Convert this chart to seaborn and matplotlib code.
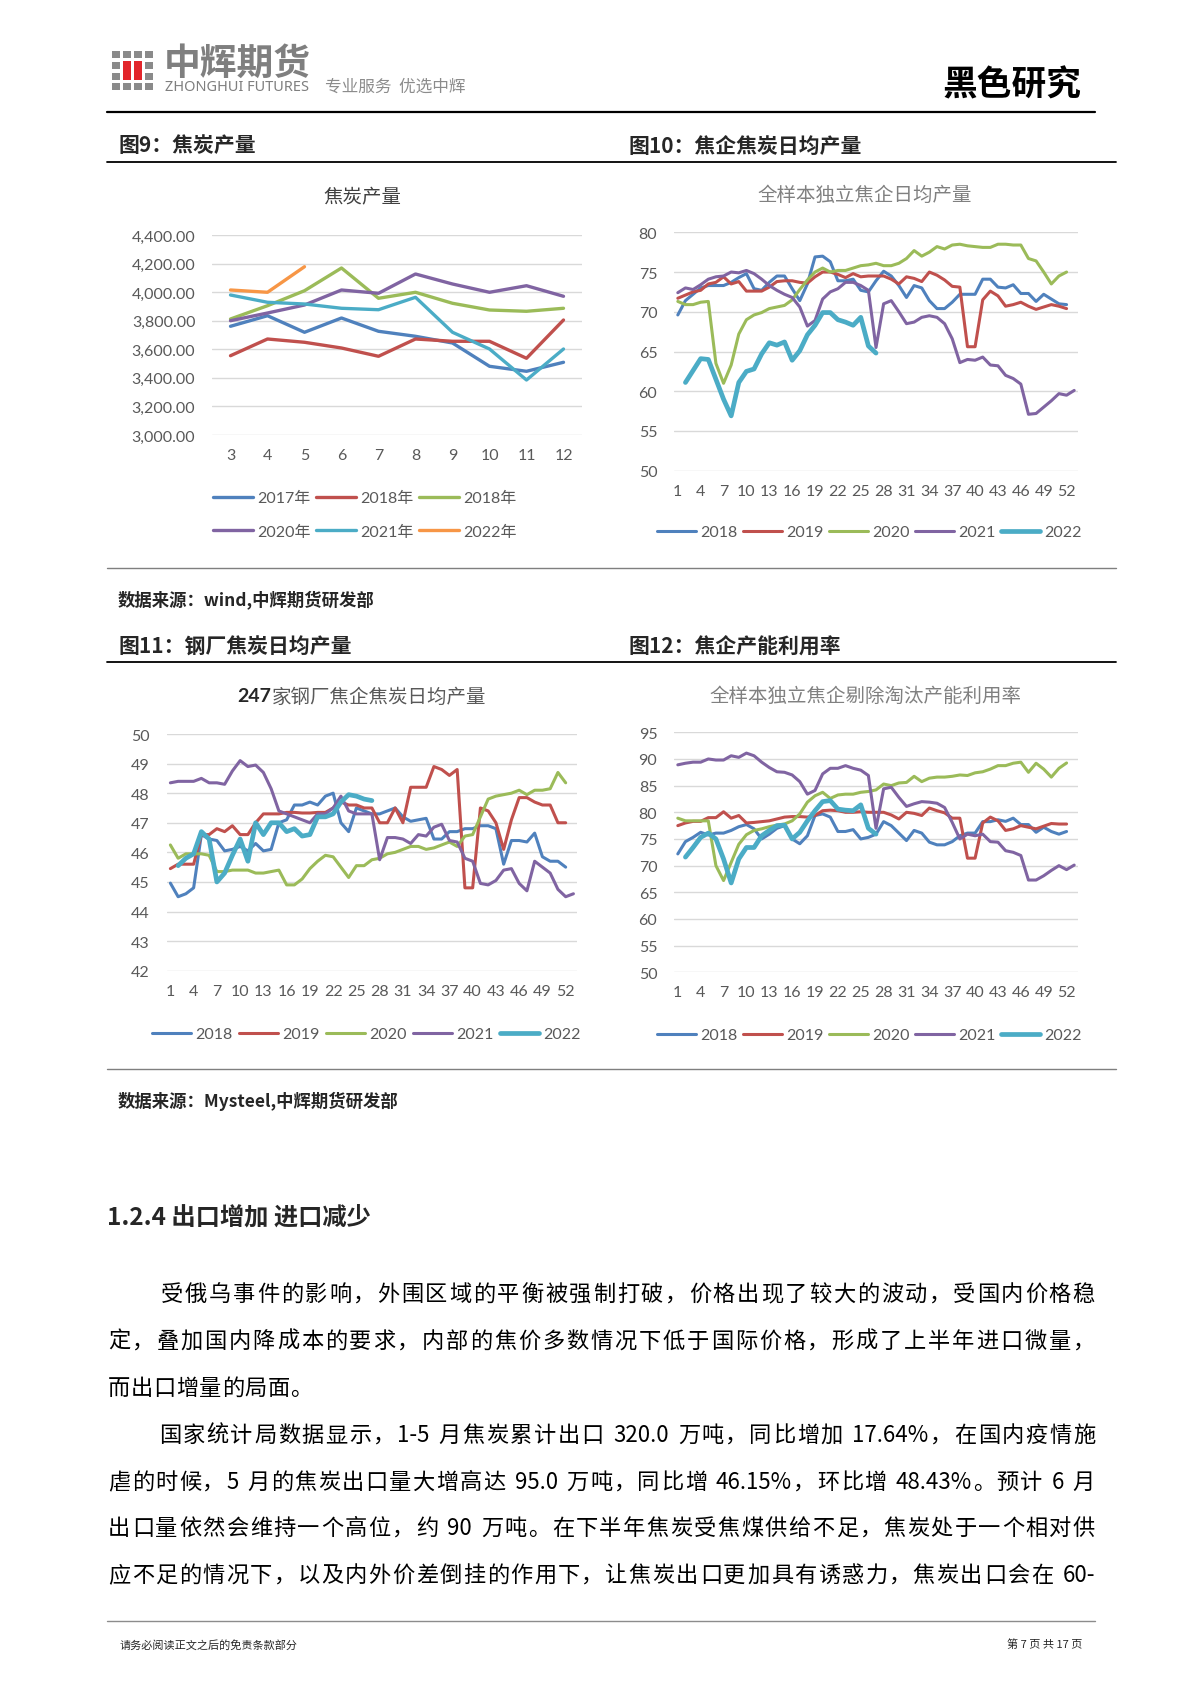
import re
import numpy as np
import pandas as pd
import matplotlib
matplotlib.use('Agg')
import matplotlib.pyplot as plt
import seaborn as sns
from matplotlib.patches import Rectangle
from matplotlib.lines import Line2D

# ---------------------------------------------------------------- data
months = [3, 4, 5, 6, 7, 8, 9, 10, 11, 12]
c9_labels = ['2017年', '2018年', '2018年', '2020年', '2021年', '2022年']
c9_2017 = [3761, 3835, 3719, 3819, 3726, 3691, 3644, 3481, 3446, 3509]
c9_2018 = [3555, 3672, 3649, 3609, 3551, 3672, 3656, 3656, 3537, 3805]
c9_2019 = [3812, 3905, 4010, 4169, 3957, 3999, 3922, 3875, 3866, 3887]
c9_2020 = [3800, 3854, 3910, 4015, 3992, 4127, 4057, 3999, 4045, 3971]
c9_2021 = [3980, 3929, 3917, 3887, 3877, 3964, 3719, 3602, 3385, 3602]
c9_2022 = [4015, 3999, 4178]

week_labels = ['2018', '2019', '2020', '2021', '2022']

c10_2018 = [69.6, 71.4, 72.2, 73.0, 73.3, 73.3, 73.3, 73.7, 74.3, 74.8,
            72.9, 72.7, 73.7, 74.5, 74.5, 72.9, 71.4, 73.5, 76.9, 77.0,
            76.3, 73.9, 73.9, 74.1, 72.7, 72.5, 73.9, 75.1, 74.5, 73.3,
            71.8, 73.3, 73.0, 71.4, 70.4, 70.4, 71.2, 72.2, 72.2, 72.2,
            74.1, 74.1, 73.1, 73.0, 73.4, 72.3, 72.3, 71.3, 72.2, 71.6,
            71.0, 70.9]
c10_2019 = [71.7, 72.1, 72.5, 72.7, 73.5, 73.7, 74.4, 73.5, 73.8, 72.6,
            72.6, 72.6, 73.1, 73.8, 73.9, 73.9, 73.7, 73.6, 74.4, 75.0,
            75.0, 74.7, 74.3, 74.8, 74.4, 74.5, 74.5, 74.5, 74.1, 73.5,
            74.4, 74.2, 73.8, 75.0, 74.6, 74.0, 73.2, 73.1, 65.6, 65.6,
            71.5, 72.6, 72.0, 70.7, 70.9, 71.2, 70.7, 70.3, 70.6, 70.9,
            70.7, 70.4]
c10_2020 = [71.3, 70.9, 70.9, 71.2, 71.3, 63.5, 61.0, 63.3, 67.2, 69.0,
            69.6, 69.9, 70.4, 70.6, 70.8, 71.5, 72.8, 74.0, 75.0, 75.5,
            75.0, 75.2, 75.2, 75.5, 75.8, 75.9, 76.1, 75.8, 75.8, 76.1,
            76.7, 77.7, 77.0, 77.5, 78.2, 77.9, 78.4, 78.5, 78.3, 78.2,
            78.1, 78.1, 78.5, 78.5, 78.4, 78.4, 76.7, 76.4, 75.0, 73.5,
            74.5, 75.0]
c10_2021 = [72.4, 73.0, 72.8, 73.4, 74.1, 74.4, 74.5, 75.0, 74.9, 75.2,
            74.8, 74.1, 73.3, 72.7, 72.2, 71.8, 70.6, 68.2, 68.9, 71.6,
            72.5, 72.9, 73.7, 73.7, 73.3, 72.7, 65.5, 71.0, 71.4, 70.0,
            68.5, 68.7, 69.3, 69.5, 69.3, 68.5, 66.6, 63.6, 64.0, 63.9,
            64.3, 63.3, 63.2, 62.0, 61.6, 60.9, 57.1, 57.2, 58.0, 58.8,
            59.7, 59.5, 60.1]
c10_2022 = [61.1, 62.6, 64.1, 64.0, 61.5, 59.0, 56.9, 61.1, 62.5, 62.8,
            64.7, 66.1, 65.8, 66.2, 63.9, 65.1, 67.1, 68.3, 69.9, 69.9,
            69.0, 68.7, 68.3, 69.3, 65.7, 64.8]

c11_2018 = [44.96, 44.5, 44.6, 44.8, 46.6, 46.45, 46.4, 46.05, 46.1, 46.2,
            46.05, 46.3, 46.05, 46.1, 47.0, 47.1, 47.6, 47.6, 47.7, 47.6,
            47.9, 48.0, 47.0, 46.7, 47.5, 47.4, 47.3, 47.3, 47.4, 47.5,
            47.2, 47.05, 47.1, 47.15, 46.45, 46.45, 46.7, 46.7, 46.8, 46.8,
            46.9, 46.9, 46.8, 45.6, 46.4, 46.4, 46.35, 46.65, 45.85, 45.7,
            45.7, 45.5]
c11_2019 = [45.45, 45.6, 45.6, 45.6, 46.6, 46.6, 46.8, 46.7, 46.9, 46.6,
            46.6, 47.0, 47.3, 47.3, 47.3, 47.35, 47.35, 47.33, 47.33, 47.35,
            47.35, 47.5, 47.7, 47.6, 47.6, 47.5, 47.5, 47.0, 47.0, 47.5,
            47.0, 48.2, 48.2, 48.2, 48.9, 48.8, 48.6, 48.8, 44.8, 44.8,
            47.5, 47.4, 47.0, 46.1, 47.1, 47.85, 47.85, 47.7, 47.6, 47.6,
            47.0, 47.0]
c11_2020 = [46.25, 45.8, 45.95, 45.95, 45.95, 45.9, 45.35, 45.35, 45.4, 45.4,
            45.4, 45.3, 45.3, 45.35, 45.4, 44.9, 44.9, 45.1, 45.45, 45.7,
            45.9, 45.85, 45.5, 45.15, 45.55, 45.55, 45.75, 45.8, 45.95, 46.0,
            46.1, 46.2, 46.2, 46.1, 46.15, 46.25, 46.35, 46.2, 46.55, 46.6,
            47.2, 47.8, 47.9, 47.95, 48.0, 48.1, 47.95, 48.1, 48.1, 48.15,
            48.7, 48.35]
c11_2021 = [48.35, 48.4, 48.4, 48.4, 48.5, 48.35, 48.35, 48.3, 48.75, 49.1,
            48.9, 48.95, 48.7, 48.15, 47.4, 47.3, 47.2, 47.1, 47.0, 47.3,
            47.3, 47.5, 47.9, 47.4, 47.3, 47.3, 47.3, 45.75, 46.5, 46.5,
            46.45, 46.3, 46.6, 46.55, 46.85, 46.95, 46.4, 46.35, 45.8, 45.7,
            44.95, 44.9, 45.05, 45.4, 45.45, 44.95, 44.7, 45.7, 45.5, 45.3,
            44.75, 44.5, 44.6]
c11_2022 = [45.55, 45.8, 45.95, 46.7, 46.45, 45.0, 45.3, 45.9, 46.45, 45.7,
            47.0, 46.6, 47.0, 47.0, 46.7, 46.8, 46.55, 46.6, 47.2, 47.2,
            47.3, 47.7, 47.95, 47.9, 47.8, 47.75]

c12_2018 = [72.2, 74.5, 75.3, 76.25, 75.75, 76.1, 76.1, 76.6, 77.3, 77.7,
            76.9, 75.0, 75.9, 77.0, 77.5, 75.0, 74.1, 75.6, 79.4, 79.7,
            79.1, 76.4, 76.4, 76.75, 75.0, 75.3, 75.9, 78.25, 77.5, 76.1,
            74.7, 76.6, 76.1, 74.4, 73.9, 73.9, 74.5, 75.6, 76.1, 76.1,
            78.25, 78.25, 78.6, 78.3, 78.9, 77.7, 77.7, 76.25, 77.2, 76.4,
            75.9, 76.4]
c12_2019 = [77.5, 78.0, 78.3, 78.3, 79.0, 79.0, 80.1, 78.9, 79.4, 78.0,
            78.1, 78.25, 78.4, 78.75, 79.1, 79.2, 79.2, 79.1, 79.4, 80.3,
            80.4, 80.3, 80.0, 80.0, 80.1, 80.0, 80.0, 80.0, 79.5, 78.75,
            80.0, 79.8, 79.4, 80.8, 80.3, 79.9, 78.9, 78.9, 71.4, 71.4,
            78.0, 79.1, 78.4, 76.6, 76.9, 77.5, 77.2, 76.9, 77.4, 77.9,
            77.8, 77.8]
c12_2020 = [78.9, 78.4, 78.4, 78.4, 78.4, 70.0, 67.2, 70.6, 74.0, 75.8,
            76.6, 76.9, 77.3, 77.6, 77.8, 78.4, 79.7, 81.9, 83.1, 83.75,
            82.6, 83.25, 83.4, 83.4, 83.75, 83.9, 84.2, 85.3, 85.0, 85.5,
            85.6, 86.75, 85.75, 86.4, 86.6, 86.6, 86.75, 87.0, 86.9, 87.4,
            87.6, 88.1, 88.75, 88.75, 89.2, 89.4, 87.5, 89.2, 88.1, 86.6,
            88.25, 89.25]
c12_2021 = [88.9, 89.2, 89.4, 89.4, 90.0, 89.8, 89.8, 90.6, 90.3, 91.1,
            90.6, 89.4, 88.4, 87.6, 87.5, 87.0, 85.75, 83.4, 84.1, 87.2,
            88.25, 88.25, 88.75, 88.25, 87.9, 86.9, 77.0, 84.4, 84.7, 82.8,
            81.1, 81.6, 82.0, 81.9, 81.7, 80.9, 78.1, 75.0, 75.9, 75.6,
            75.9, 74.5, 74.4, 72.8, 72.5, 71.9, 67.3, 67.3, 68.1, 69.1,
            70.0, 69.25, 70.1]
c12_2022 = [71.6, 73.4, 75.3, 76.1, 75.0, 71.25, 66.75, 71.25, 73.4, 73.4,
            75.6, 76.6, 77.5, 77.6, 75.0, 76.25, 78.4, 80.3, 82.0, 82.2,
            80.6, 80.4, 80.3, 81.4, 77.0, 75.9]

para1 = ["受俄乌事件的影响，外围区域的平衡被强制打破，价格出现了较大的波动，受国内价格稳",
         "定，叠加国内降成本的要求，内部的焦价多数情况下低于国际价格，形成了上半年进口微量，",
         "而出口增量的局面。"]
para2 = ["国家统计局数据显示，1-5 月焦炭累计出口 320.0 万吨，同比增加 17.64%，在国内疫情施",
         "虐的时候，5 月的焦炭出口量大增高达 95.0 万吨，同比增 46.15%，环比增 48.43%。预计 6 月",
         "出口量依然会维持一个高位，约 90 万吨。在下半年焦炭受焦煤供给不足，焦炭处于一个相对供",
         "应不足的情况下，以及内外价差倒挂的作用下，让焦炭出口更加具有诱惑力，焦炭出口会在 60-"]

# ---------------------------------------------------------------- style
W, H = 1190, 1683
sns.set_theme(style='white')
plt.rcParams['font.family'] = ['Lato', 'Noto Sans CJK SC', 'DejaVu Sans']
CJK = ['Noto Sans CJK SC', 'DejaVu Sans']
BLUE, RED, GREEN, PURPLE, CYAN, ORANGE = '#4F81BD', '#C0504D', '#9BBB59', '#8064A2', '#4BACC6', '#F79646'
TICKC = '#595959'

fig = plt.figure(figsize=(W / 100, H / 100), dpi=100)
fig.patch.set_facecolor('white')
renderer = fig.canvas.get_renderer()


def fx(x):
    return x / W


def fy(y):
    return 1 - y / H


def add_ax(l, t, r, b):
    return fig.add_axes([fx(l), fy(b), (r - l) / W, (b - t) / H])


def style_ax(ax, ylim, yticks, xlim, xticks, yfmt=None):
    ax.set_ylim(*ylim)
    ax.set_yticks(yticks)
    if yfmt:
        ax.set_yticklabels([yfmt(v) for v in yticks])
    ax.set_xlim(*xlim)
    ax.set_xticks(xticks)
    ax.set_xticklabels([str(v) for v in xticks])
    for s in ax.spines.values():
        s.set_visible(False)
    ax.yaxis.grid(True, color='#D9D9D9', lw=1.0)
    ax.xaxis.grid(False)
    ax.set_axisbelow(True)
    ax.tick_params(axis='both', length=0, labelsize=11.5, colors=TICKC)
    ax.tick_params(axis='y', pad=12)
    ax.tick_params(axis='x', pad=9.5)
    ax.set_xlabel('')
    ax.set_ylabel('')
    ax.set_facecolor('none')


def plot_series(ax, xs, ys, color, lw):
    sns.lineplot(x=xs, y=ys, ax=ax, color=color, linewidth=lw,
                 estimator=None, sort=False, legend=False)
    ln = ax.get_lines()[-1]
    ln.set_solid_joinstyle('round')
    ln.set_solid_capstyle('round')
    return ln


def fig_line(x0, x1, y, color='black', lw=1.0):
    fig.add_artist(Line2D([fx(x0), fx(x1)], [fy(y), fy(y)], color=color, lw=lw))


# ---------------------------------------------------------------- chart 9
ax9 = add_ax(212, 236, 582, 436)
c9_series = [c9_2017, c9_2018, c9_2019, c9_2020, c9_2021, c9_2022]
c9_colors = [BLUE, RED, GREEN, PURPLE, CYAN, ORANGE]
h9 = []
for vals, col in zip(c9_series, c9_colors):
    h9.append(plot_series(ax9, months[:len(vals)], vals, col, 2.4))
style_ax(ax9, (3000, 4400), list(range(3000, 4401, 200)), (2.5, 12.5), months,
         yfmt=lambda v: f'{v:,.2f}')
order = [0, 3, 1, 4, 2, 5]
ax9.legend([h9[i] for i in order], [c9_labels[i] for i in order], ncol=3,
           loc='center left', bbox_to_anchor=(fx(213), fy(516)), bbox_transform=fig.transFigure,
           frameon=False, prop={'size': 11.5}, labelcolor=TICKC, handlelength=2.5,
           handletextpad=0.25, columnspacing=0.35, labelspacing=1.2, borderpad=0, borderaxespad=0)
fig.text(fx(362), fy(198), '焦炭产量', fontsize=14, color='#404040', ha='center', va='center', family=CJK)


# ---------------------------------------------------------------- weekly charts
def weekly(ax, series, lws, ylim, yticks, legend_x, legend_y, colspace):
    cols = [BLUE, RED, GREEN, PURPLE, CYAN]
    hs = []
    for vals, col, lw in zip(series, cols, lws):
        start = 2 if col == CYAN else 1
        weeks = list(range(start, start + len(vals)))
        hs.append(plot_series(ax, weeks, vals, col, lw))
    style_ax(ax, ylim, yticks, (0.5, 53.5), list(range(1, 53, 3)))
    ax.legend(hs, week_labels, ncol=5, loc='center left', bbox_to_anchor=(fx(legend_x), fy(legend_y)),
              bbox_transform=fig.transFigure, frameon=False, prop={'size': 11.5}, labelcolor=TICKC,
              handlelength=2.45, handletextpad=0.25, columnspacing=colspace, borderpad=0, borderaxespad=0)


ax10 = add_ax(674, 233.3, 1078, 471.7)
weekly(ax10, [c10_2018, c10_2019, c10_2020, c10_2021, c10_2022], [2.2, 2.2, 2.2, 2.2, 3.4],
       (50, 80), list(range(50, 81, 5)), 657, 533, 0.35)
fig.text(fx(865), fy(195), '全样本独立焦企日均产量', fontsize=14, color='#808080', ha='center', va='center', family=CJK)

ax11 = add_ax(166.5, 735, 577.3, 971.7)
weekly(ax11, [c11_2018, c11_2019, c11_2020, c11_2021, c11_2022], [2.2, 2.2, 2.2, 2.2, 3.4],
       (42, 50), list(range(42, 51, 1)), 152, 1035, 0.41)
t_a = fig.text(0, fy(697), '247', fontsize=14, color='#262626', ha='left', va='center',
               family=['Lato'], weight='bold')
t_b = fig.text(0, fy(697), '家钢厂焦企焦炭日均产量', fontsize=14, color='#595959', ha='left', va='center', family=CJK)
wa = t_a.get_window_extent(renderer).width
wb = t_b.get_window_extent(renderer).width
x_start = 362 - (wa + wb + 1) / 2
t_a.set_x(fx(x_start))
t_b.set_x(fx(x_start + wa + 1))

ax12 = add_ax(674, 733.3, 1078, 973.3)
weekly(ax12, [c12_2018, c12_2019, c12_2020, c12_2021, c12_2022], [2.2, 2.2, 2.2, 2.2, 3.4],
       (50, 95), list(range(50, 96, 5)), 657, 1036, 0.35)
fig.text(fx(865), fy(696), '全样本独立焦企剔除淘汰产能利用率', fontsize=14, color='#808080', ha='center', va='center', family=CJK)

# ---------------------------------------------------------------- page header
for r, top in enumerate([52, 63, 74, 84]):
    for c, left in enumerate([112, 123, 134, 145]):
        if r in (1, 2) and c in (1, 2):
            continue
        fig.add_artist(Rectangle((fx(left), fy(top + 7)), 8 / W, 7 / H, transform=fig.transFigure,
                                 color='#8a8a8a', lw=0))
for left in [123, 134]:
    fig.add_artist(Rectangle((fx(left), fy(81)), 8 / W, 19 / H, transform=fig.transFigure,
                             color='#E2252B', lw=0))
fig.text(fx(164), fy(64), '中辉期货', fontsize=26.5, color='#7f7f7f', ha='left', va='center',
         family=CJK, weight='bold')
fig.text(fx(165), fy(87.5), 'ZHONGHUI FUTURES', fontsize=10.5, color='#7f7f7f', ha='left', va='center',
         family=['Noto Sans', 'DejaVu Sans'])
fig.text(fx(325), fy(87), '专业服务  优选中辉', fontsize=12, color='#8c8c8c', ha='left', va='center',
         family=CJK)
fig.text(fx(1081), fy(85), '黑色研究', fontsize=25, color='black', ha='right', va='center',
         family=CJK, weight='bold')
fig_line(107, 1095, 113, lw=1.6)

# ---------------------------------------------------------------- figure captions
fig.text(fx(118), fy(146), '图9：焦炭产量', fontsize=15, ha='left', va='center', family=CJK, weight='bold')
fig.text(fx(628), fy(146), '图10：焦企焦炭日均产量', fontsize=15, ha='left', va='center', family=CJK, weight='bold')
fig_line(107, 1116, 163, lw=1.3)
fig_line(107, 1116, 569, color='#7f7f7f', lw=1.0)
fig.text(fx(118), fy(600), '数据来源：wind,中辉期货研发部', fontsize=12.5, ha='left', va='center', family=CJK, weight='bold')
fig.text(fx(118), fy(647), '图11：钢厂焦炭日均产量', fontsize=15, ha='left', va='center', family=CJK, weight='bold')
fig.text(fx(628), fy(647), '图12：焦企产能利用率', fontsize=15, ha='left', va='center', family=CJK, weight='bold')
fig_line(107, 1116, 663, lw=1.3)
fig_line(107, 1116, 1070, color='#7f7f7f', lw=1.0)
fig.text(fx(118), fy(1101), '数据来源：Mysteel,中辉期货研发部', fontsize=12.5, ha='left', va='center', family=CJK, weight='bold')

fig.text(fx(107), fy(1217), '1.2.4 出口增加 进口减少', fontsize=17.5, ha='left', va='center', family=CJK, weight='bold')

# ---------------------------------------------------------------- body text (justified)
FS = 16
EM = FS * 100 / 72


def justified(text, x0, x1, yc, justify=True):
    toks = re.findall(r'[0-9A-Za-z.%\-]+| |[^ 0-9A-Za-z.%\-]', text)
    objs, widths = [], []
    for t in toks:
        if t == ' ':
            objs.append(None)
            widths.append(0.28 * EM)
        else:
            o = fig.text(0, fy(yc + 0.36 * EM), t, fontsize=FS, ha='left', va='baseline',
                         family=CJK, color='black')
            objs.append(o)
            widths.append(o.get_window_extent(renderer).width)
    gap = (x1 - x0 - sum(widths)) / (len(toks) - 1) if justify else 0.5
    x = x0
    for o, w in zip(objs, widths):
        if o is not None:
            o.set_x(fx(x))
        x += w + gap


ys = [1293, 1340, 1387, 1434, 1481, 1527, 1574]
justified(para1[0], 161, 1095, ys[0])
justified(para1[1], 108, 1095, ys[1])
justified(para1[2], 108, 1095, ys[2], justify=False)
justified(para2[0], 159, 1095, ys[3])
justified(para2[1], 108, 1095, ys[4])
justified(para2[2], 108, 1095, ys[5])
justified(para2[3], 108, 1095, ys[6])

# ---------------------------------------------------------------- footer
fig_line(107, 1095, 1622, color='#8c8c8c', lw=1.0)
fig.text(fx(120), fy(1645), '请务必阅读正文之后的免责条款部分', fontsize=8, ha='left', va='center', family=CJK)
fig.text(fx(1082), fy(1645), '第 7 页 共 17 页', fontsize=8, ha='right', va='center', family=CJK)

fig.savefig('out.png', dpi=100, facecolor='white')
